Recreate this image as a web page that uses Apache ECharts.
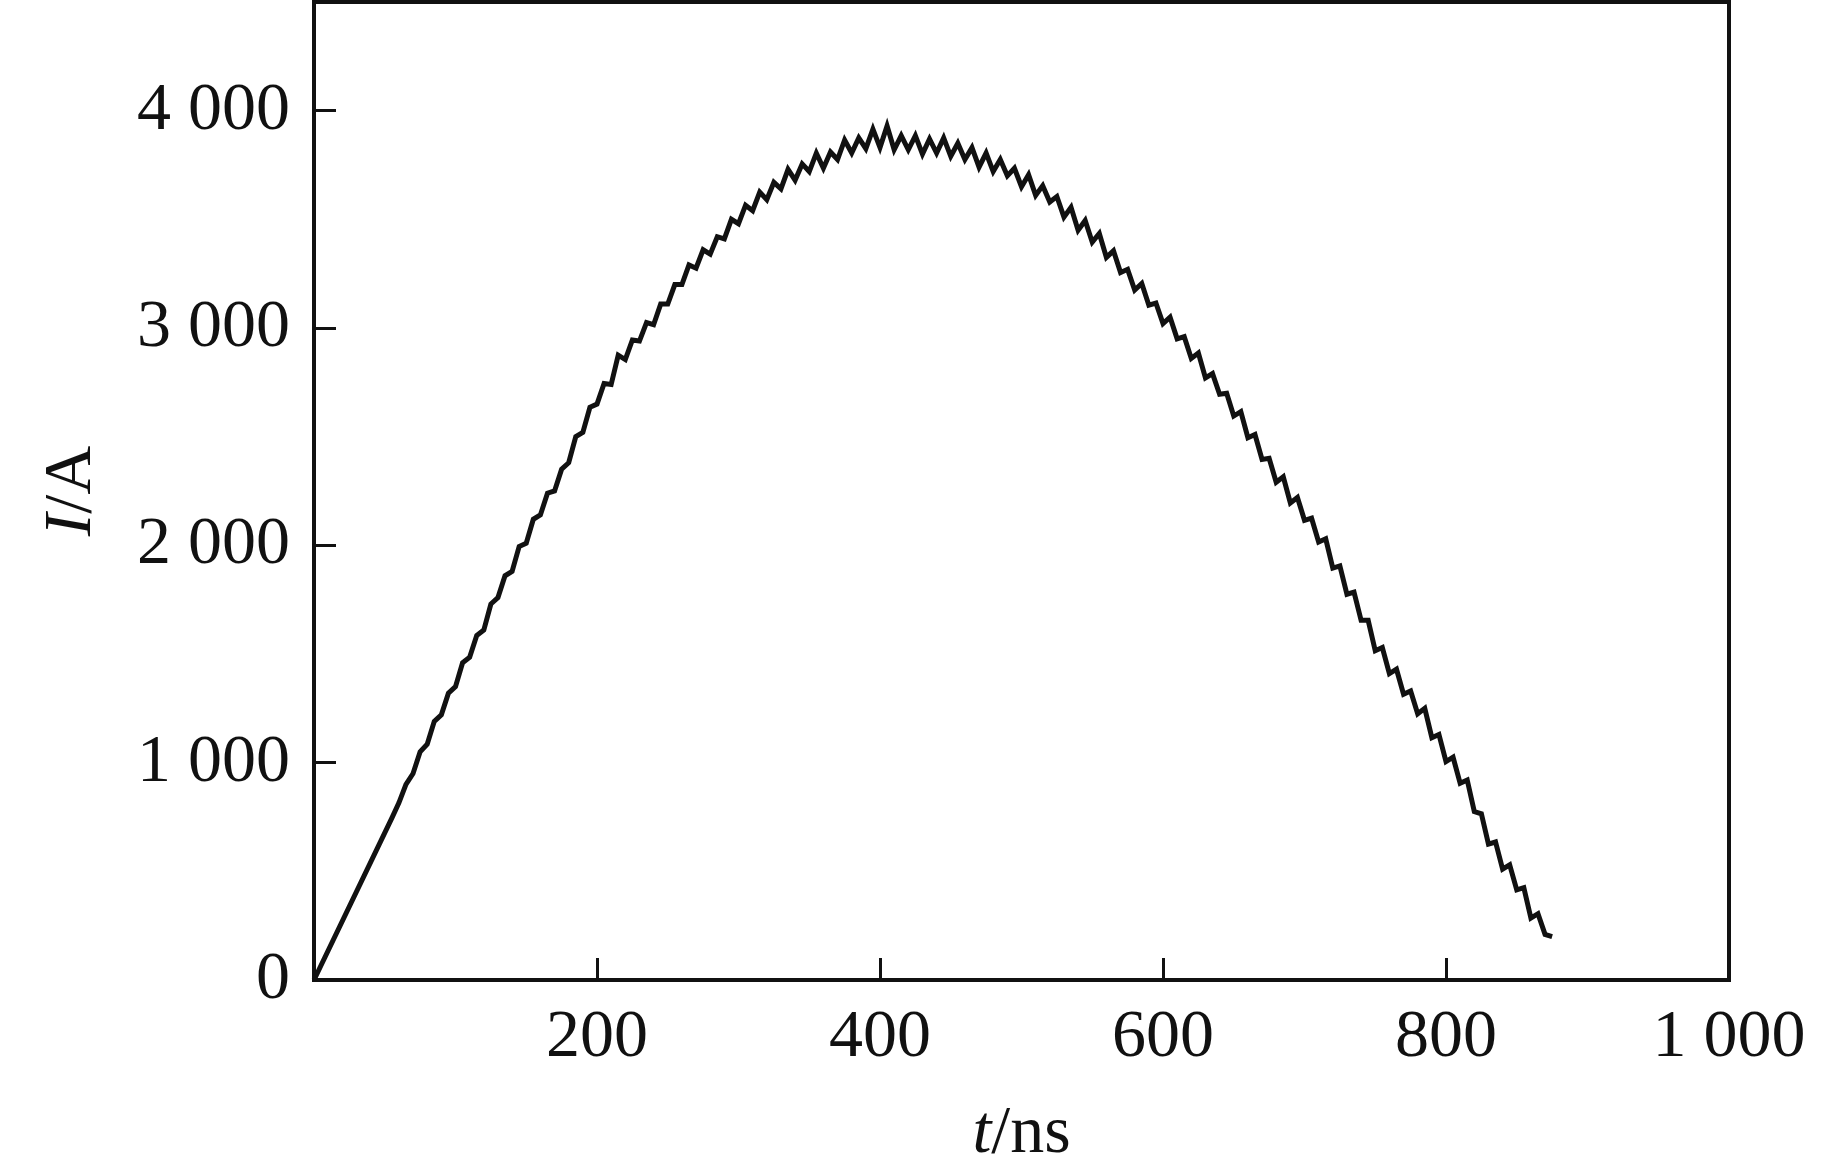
<!DOCTYPE html>
<html>
<head>
<meta charset="utf-8">
<script src="https://cdn.jsdelivr.net/npm/echarts@6/dist/echarts.min.js"></script>
<style>
html,body{margin:0;padding:0;background:#fff;}
#chart{width:1843px;height:1173px;}
</style>
</head>
<body>
<div id="chart"></div>
<script>
// time (ns)
const timeNs = [0,55,60,65,70,75,80,85,90,95,100,105,110,115,120,125,130,135,140,145,150,155,160,165,170,175,180,185,190,195,
200,205,210,215,220,225,230,235,240,245,250,255,260,265,270,275,280,285,290,295,
300,305,310,315,320,325,330,335,340,345,350,355,360,365,370,375,380,385,390,395,
400,405,410,415,420,425,430,435,440,445,450,455,460,465,470,475,480,485,490,495,
500,505,510,515,520,525,530,535,540,545,550,555,560,565,570,575,580,585,590,595,
600,605,610,615,620,625,630,635,640,645,650,655,660,665,670,675,680,685,690,695,
700,705,710,715,720,725,730,735,740,745,750,755,760,765,770,775,780,785,790,795,
800,805,810,815,820,825,830,835,840,845,850,855,860,865,870,875];
// current (A)
const currentA = [0,745,815,900,950,1050,1085,1190,1220,1320,1350,1460,1485,1585,1610,1730,1760,1860,1880,1995,2010,2120,2140,2240,2250,2350,2380,2500,2520,2635,
2650,2745,2740,2875,2855,2945,2940,3025,3015,3110,3110,3200,3200,3290,3275,3360,3340,3420,3410,3500,
3480,3565,3540,3625,3590,3670,3640,3730,3680,3755,3720,3805,3735,3810,3775,3865,3805,3875,3825,3915,
3830,3930,3820,3885,3820,3885,3800,3870,3805,3875,3790,3850,3775,3830,3740,3805,3720,3775,3700,3735,
3650,3705,3610,3655,3580,3605,3510,3555,3450,3495,3395,3435,3325,3355,3255,3270,3175,3205,3105,3115,
3020,3050,2950,2960,2860,2885,2770,2790,2695,2700,2595,2615,2495,2510,2395,2400,2290,2315,2195,2220,
2115,2125,2015,2030,1895,1905,1775,1785,1655,1655,1515,1530,1410,1430,1315,1330,1225,1250,1115,1130,
1005,1025,905,920,775,765,625,635,510,530,415,425,285,305,210,200];
// axis ticks
const xTicks = [200,400,600,800,1000];
const yTicks = [0,1000,2000,3000,4000];

const fmt = v => (xTicks.includes(v) || yTicks.includes(v)) ? String(v).replace(/\B(?=(\d{3})+(?!\d))/g,' ') : '';
const FONT = 'Liberation Serif';
const INK = '#111111';
const FS = 68;

const chart = echarts.init(document.getElementById('chart'), null, {renderer:'canvas'});
chart.setOption({
  animation:false,
  backgroundColor:'#ffffff',
  grid:{left:314,right:114,top:2,bottom:192,show:true,borderColor:INK,borderWidth:4,backgroundColor:'transparent'},
  xAxis:{
    type:'value',min:0,max:1000,interval:200,
    name:'{i|t}/ns',nameLocation:'middle',nameGap:120,
    nameTextStyle:{fontFamily:FONT,fontSize:FS,color:INK,rich:{i:{fontStyle:'italic',fontFamily:FONT,fontSize:FS,color:INK}}},
    axisLine:{show:true,lineStyle:{color:INK,width:4}},
    axisTick:{show:true,inside:true,length:22,lineStyle:{color:INK,width:3}},
    axisLabel:{showMinLabel:false,margin:24,fontFamily:FONT,fontSize:FS,color:INK,formatter:fmt},
    splitLine:{show:false}
  },
  yAxis:{
    type:'value',min:0,max:4500,interval:1000,
    name:'{i|I}/A',nameLocation:'middle',nameGap:208,
    nameTextStyle:{fontFamily:FONT,fontSize:FS,color:INK,rich:{i:{fontStyle:'italic',fontFamily:FONT,fontSize:FS,color:INK}}},
    axisLine:{show:true,lineStyle:{color:INK,width:4}},
    axisTick:{show:true,inside:true,length:22,lineStyle:{color:INK,width:3}},
    axisLabel:{margin:24,fontFamily:FONT,fontSize:FS,color:INK,formatter:fmt},
    splitLine:{show:false}
  },
  series:[{
    type:'line',
    data:timeNs.map((t,i)=>[t,currentA[i]]),
    symbol:'none',
    lineStyle:{color:INK,width:5,join:'miter'},
    emphasis:{disabled:true}
  }]
});
</script>
</body>
</html>
